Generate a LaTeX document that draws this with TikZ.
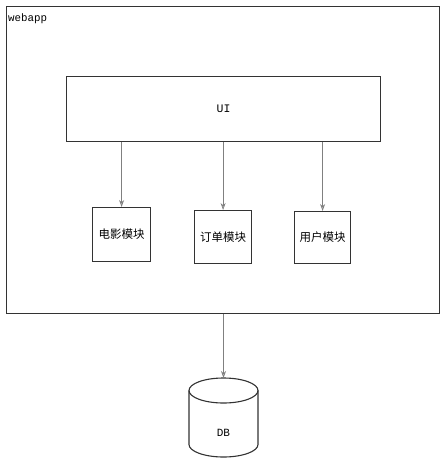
\documentclass[tikz,border=0pt]{standalone}
\usepackage{fontspec}
\setmonofont{Liberation Mono}
\newfontfamily\cjk{Noto Sans CJK SC}
\usetikzlibrary{arrows.meta}
\begin{document}
\begin{tikzpicture}[x=1pt,y=-1pt,
  box/.style={draw=black!80,line width=1.2pt,fill=white,inner sep=0pt},
  modbox/.style={box,font=\cjk\fontsize{11.5}{12}\selectfont},
  conn/.style={draw=black!50,line width=0.7pt,-{Stealth[length=7pt,width=5pt,open,fill=black!25]}},
  lbl/.style={font=\ttfamily\fontsize{10.8}{12}\selectfont,inner sep=0pt}]
\useasboundingbox (0,0) rectangle (445,467);
\fill[white] (0,0) rectangle (445,467);
% outer webapp box
\node[box,minimum width=433pt,minimum height=307pt,anchor=north west] (webapp) at (6,6) {};
\node[lbl,anchor=north west] (wlabel) at (8,13) {webapp};
% UI
\node[box,minimum width=314pt,minimum height=65pt,anchor=north west,font=\ttfamily\fontsize{11.5}{12}\selectfont] (ui) at (66,76) {UI};
% modules
\node[modbox,minimum width=58pt,minimum height=54pt,anchor=north west] (m1) at (92,207) {电影模块};
\node[modbox,minimum width=57pt,minimum height=53pt,anchor=north west] (m2) at (194,210) {订单模块};
\node[modbox,minimum width=56pt,minimum height=52pt,anchor=north west] (m3) at (294,211) {用户模块};
% DB cylinder
\coordinate (dbtop) at (223.5,378);
\draw[draw=black!80,line width=1.1pt,fill=white]
  (189,390.5) arc[start angle=180,end angle=0,x radius=34.5pt,y radius=12.5pt]
  -- (258,444.5) arc[start angle=0,end angle=-180,x radius=34.5pt,y radius=12.5pt] -- cycle;
\draw[draw=black!80,line width=1.1pt]
  (189,390.5) arc[start angle=180,end angle=360,x radius=34.5pt,y radius=12.5pt];
\node[font=\ttfamily\fontsize{11}{12}\selectfont,inner sep=0pt] (db) at (223.5,433) {DB};
% connectors
\draw[conn] (ui.south -| m1.north) -- (m1.north);
\draw[conn] (ui.south -| m2.north) -- (m2.north);
\draw[conn] (ui.south -| m3.north) -- (m3.north);
\draw[conn] (webapp.south -| dbtop) -- (dbtop);
\end{tikzpicture}
\end{document}
